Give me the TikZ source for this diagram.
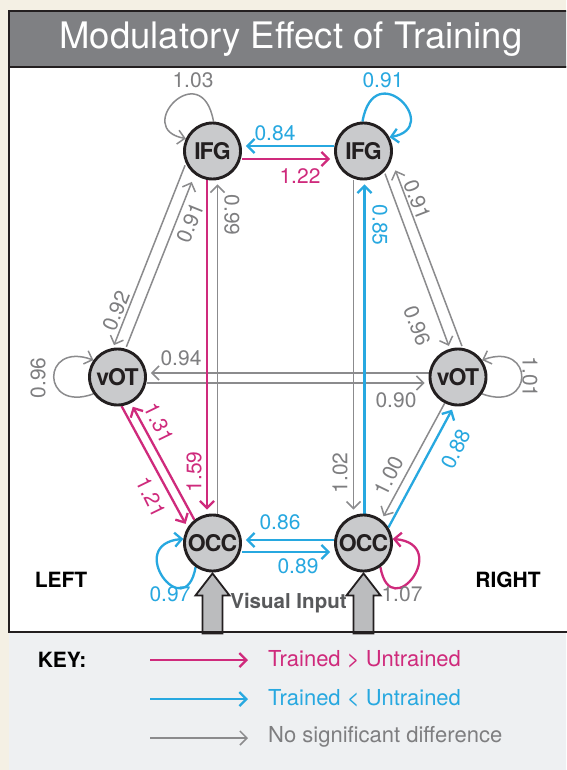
\documentclass[tikz,border=0pt]{standalone}
\usepackage{fontspec}
\setmainfont{TeX Gyre Heros}
\usetikzlibrary{arrows.meta,calc}
\definecolor{mag}{HTML}{CF2A7C}
\definecolor{cyanb}{HTML}{27A8E0}
\definecolor{grayl}{HTML}{8B8B8D}
\definecolor{grayt}{HTML}{7E7E80}
\definecolor{nodefill}{HTML}{C9CACC}
\definecolor{ink}{HTML}{231F20}
\definecolor{titlebar}{HTML}{7F8083}
\definecolor{cream}{HTML}{F4F0E4}
\definecolor{keybg}{HTML}{EEF0F2}
\definecolor{blockfill}{HTML}{BBBCBE}
\definecolor{vistext}{HTML}{58595B}
\pgfdeclarelayer{bg}
\pgfdeclarelayer{edges}
\pgfsetlayers{bg,edges,main}
\begin{document}
\begin{tikzpicture}[x=1pt,y=1pt,
  region/.style={circle, draw=ink, line width=2.9pt, fill=nodefill, minimum size=56pt, inner sep=0pt,
    font=\bfseries\fontsize{23}{25}\selectfont\addfontfeatures{LetterSpace=-4}, text=ink},
  arr/.style={-{Straight Barb[length=7pt,width=14pt]}},
  magline/.style={draw=mag, line width=2.3pt, arr},
  blueline/.style={draw=cyanb, line width=2.3pt, arr},
  grayline/.style={draw=grayl, line width=1.5pt, arr},
  lbl/.style={font=\fontsize{21}{24}\selectfont, inner sep=0pt},
  lg/.style={lbl, text=grayt},
  lm/.style={lbl, text=mag},
  lb/.style={lbl, text=cyanb},
  keytxt/.style={font=\fontsize{22}{25}\selectfont, inner sep=0pt, anchor=west},
  bold/.style={font=\bfseries\fontsize{21}{24}\selectfont, inner sep=0pt},
  blockarrow/.style={fill=blockfill, draw=ink, line width=1.8pt, line join=miter}
]
\useasboundingbox (0,0) rectangle (566,-770);
\begin{pgfonlayer}{bg}
\begin{scope}
\clip (0,0) rectangle (566,-770);
\fill[cream] (0,0) rectangle (566,-770);
\filldraw[fill=titlebar, draw=ink, line width=2pt] (9,-11) rectangle (590,-67);
\filldraw[fill=white, draw=ink, line width=2pt] (9,-67) rectangle (590,-632);
\fill[keybg] (9,-632) rectangle (590,-790);
\end{scope}
\end{pgfonlayer}
\node[text=white, font=\fontsize{36.5}{40}\selectfont, inner sep=0pt] (title) at (291,-39) {Modulatory Effect of Training};

% regions
\node[region] (IFGL) at (212.5,-151) {IFG};
\node[region] (IFGR) at (363.5,-151) {IFG};
\node[region] (vOTL) at (117.5,-377) {vOT};
\node[region] (vOTR) at (458,-377) {vOT};
\node[region] (OCCL) at (212.5,-543) {OCC};
\node[region] (OCCR) at (363.5,-543) {OCC};

\begin{pgfonlayer}{edges}
% IFG horizontal
\draw[blueline, shorten >=4pt] ([yshift=5pt]IFGR.west) -- ([yshift=5pt]IFGL.east);
\draw[magline, shorten >=4pt] ([yshift=-8pt]IFGL.east) -- ([yshift=-8pt]IFGR.west);
% vOT horizontal
\draw[grayline, shorten >=4pt] ([yshift=4pt]vOTR.west) -- ([yshift=4pt]vOTL.east);
\draw[grayline, shorten >=4pt] ([yshift=-6pt]vOTL.east) -- ([yshift=-6pt]vOTR.west);
% OCC horizontal
\draw[blueline, shorten >=4pt] ([yshift=3pt]OCCR.west) -- ([yshift=3pt]OCCL.east);
\draw[blueline, shorten >=4pt] ([yshift=-9pt]OCCL.east) -- ([yshift=-9pt]OCCR.west);
% verticals
\draw[magline, shorten >=4pt] ([xshift=-5.5pt]IFGL.south) -- ([xshift=-5.5pt]OCCL.north);
\draw[grayline, shorten >=4pt] ([xshift=5pt]OCCL.north) -- ([xshift=5pt]IFGL.south);
\draw[grayline, shorten >=4pt] ([xshift=-10pt]IFGR.south) -- ([xshift=-10pt]OCCR.north);
\draw[blueline, shorten >=4pt] ([xshift=1pt]OCCR.north) -- ([xshift=1pt]IFGR.south);
% IFG - vOT diagonals
\draw[grayline, shorten >=3pt, shorten <=2pt] (IFGL.205) -- (vOTL.99);
\draw[grayline, shorten >=8pt, shorten <=2pt] (vOTL.74) -- (IFGL.233);
\draw[grayline, shorten >=3pt, shorten <=2pt] (IFGR.315) -- (vOTR.106);
\draw[grayline, shorten >=11pt, shorten <=2pt] (vOTR.81) -- (IFGR.342);
% vOT - OCC diagonals
\draw[magline, shorten >=4pt] (vOTL.278) -- (OCCL.148);
\draw[magline, shorten >=4pt] (OCCL.128) -- (vOTL.297);
\draw[blueline, shorten >=4pt] (OCCR.32) -- (vOTR.262);
\draw[grayline, shorten >=4pt] (vOTR.243) -- (OCCR.52);
% self loops
\draw[grayline] (IFGL.88) .. controls +(100:68) and +(170:55) .. (IFGL.155);
\draw[blueline] (IFGR.92) .. controls +(80:68) and +(10:55) .. (IFGR.28);
\draw[grayline] (vOTL.215) .. controls +(200:56) and +(160:56) .. (vOTL.145);
\draw[grayline] (vOTR.325) .. controls +(-20:56) and +(20:56) .. (vOTR.35);
\draw[blueline] (OCCL.235) .. controls +(260:60) and +(185:60) .. (OCCL.172);
\draw[magline] (OCCR.305) .. controls +(280:60) and +(-5:60) .. (OCCR.8);
\end{pgfonlayer}

% labels
\node[lb] (l084) at (275,-133) {0.84};
\node[lm] (l122) at (300,-176) {1.22};
\node[lg] (l103) at (193,-80) {1.03};
\node[lb] (l091r) at (383,-80) {0.91};
\node[lg, rotate=68] (l091a) at (190,-223) {0.91};
\node[lg, rotate=68] (l092) at (116,-311) {0.92};
\node[lg, rotate=-90] (l099) at (232,-215) {0.99};
\node[lm, rotate=90] (l159) at (194,-472) {1.59};
\node[lg, rotate=-69] (l091b) at (417,-200) {0.91};
\node[lg, rotate=-69] (l096a) at (417,-326) {0.96};
\node[lb, rotate=-90] (l085) at (380,-225) {0.85};
\node[lg, rotate=90] (l102) at (340,-473) {1.02};
\node[lg] (l094) at (181,-358) {0.94};
\node[lg] (l090) at (396,-400) {0.90};
\node[lg, rotate=90] (l096b) at (38,-378) {0.96};
\node[lg, rotate=-90] (l101) at (530,-377) {1.01};
\node[lm, rotate=-64] (l131) at (159,-423) {1.31};
\node[lm, rotate=-64] (l121) at (151,-497) {1.21};
\node[lg, rotate=64] (l100) at (389,-476) {1.00};
\node[lb, rotate=64] (l088) at (456,-449) {0.88};
\node[lb] (l086) at (280,-522) {0.86};
\node[lb] (l089) at (298,-566) {0.89};
\node[lb] (l097) at (170,-594) {0.97};
\node[lg] (l107) at (402,-594) {1.07};

% visual input block arrows
\draw[blockarrow] ([yshift=-1pt]OCCL.south) -- ++(-17,-22) -- ++(7,0) -- ++(0,-38) -- ++(20,0) -- ++(0,38) -- ++(7,0) -- cycle;
\draw[blockarrow] ([yshift=-1pt]OCCR.south) -- ++(-17,-22) -- ++(7,0) -- ++(0,-38) -- ++(20,0) -- ++(0,38) -- ++(7,0) -- cycle;
\node[bold, text=vistext, font=\bfseries\fontsize{20.5}{24}\selectfont] (vis) at (288.5,-603) {Visual Input};
\node[bold, text=black] (left) at (61,-580) {LEFT};
\node[bold, text=black] (right) at (508,-580) {RIGHT};

% key
\draw[ink, line width=2pt] (9,-632) -- (590,-632);
\node[bold, text=black] (key) at (62,-660) {KEY:};
\coordinate (k1a) at (150,-660); \coordinate (k1b) at (248,-660);
\coordinate (k2a) at (150,-699); \coordinate (k2b) at (248,-699);
\coordinate (k3a) at (150,-738); \coordinate (k3b) at (248,-738);
\draw[magline] (k1a) -- (k1b);
\draw[blueline] (k2a) -- (k2b);
\draw[grayline] (k3a) -- (k3b);
\node[keytxt, text=mag] (t1) at (268,-659) {Trained > Untrained};
\node[keytxt, text=cyanb] (t2) at (268,-698) {Trained < Untrained};
\node[keytxt, text=grayt] (t3) at (268,-737) {No significant difference};
\end{tikzpicture}
\end{document}
